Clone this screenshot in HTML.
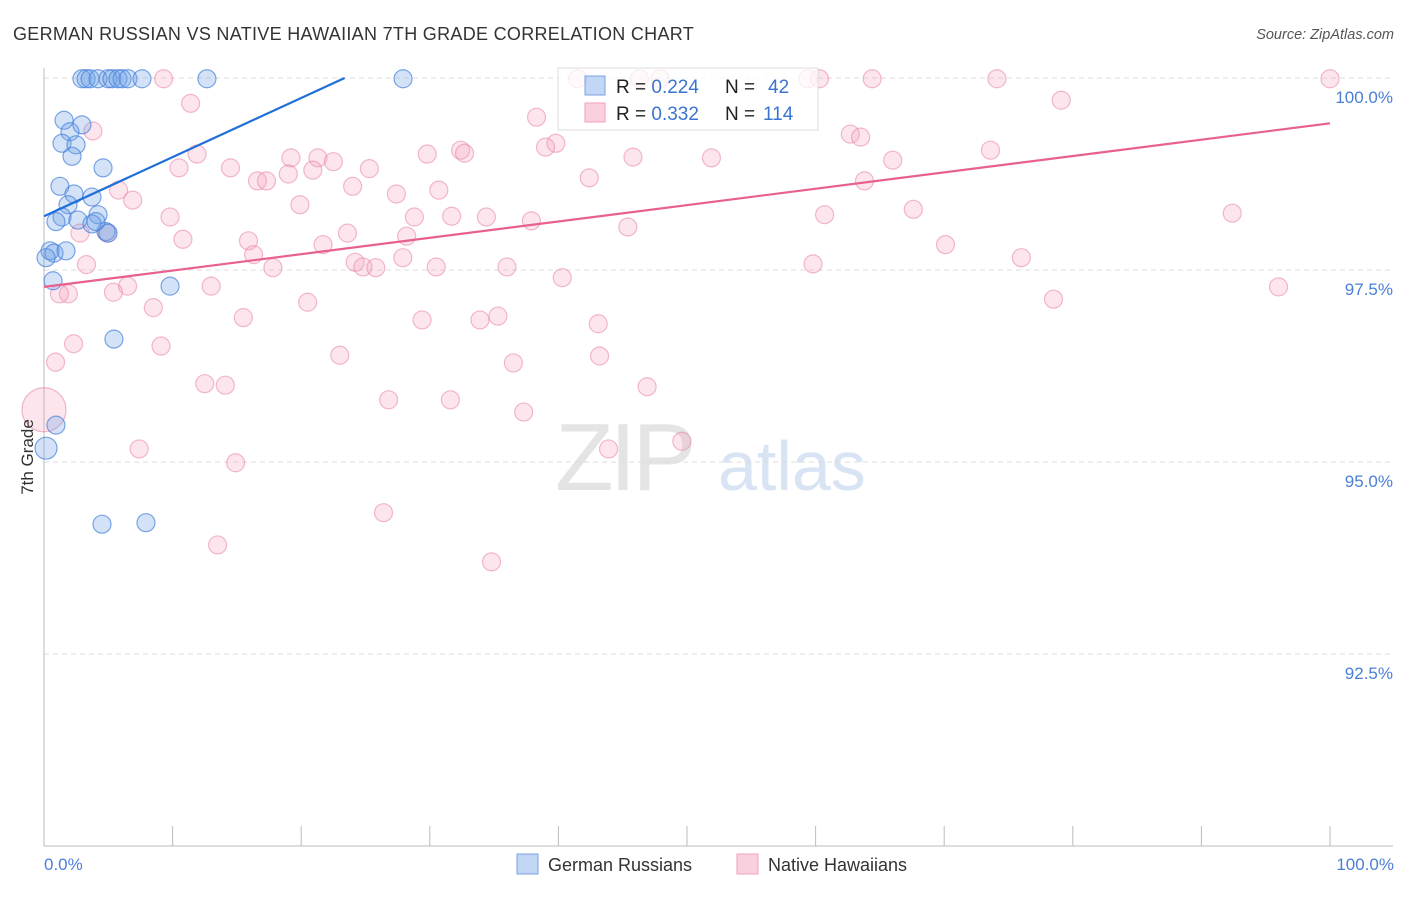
<!DOCTYPE html>
<html><head><meta charset="utf-8"><style>
body{margin:0;background:#fff;font-family:"Liberation Sans",sans-serif;}
svg text{font-family:"Liberation Sans",sans-serif;}
</style></head><body>
<svg id="chart" width="1406" height="892" viewBox="0 0 1406 892" xmlns="http://www.w3.org/2000/svg">
<text x="13" y="40" font-size="18" fill="#333" letter-spacing="0.3">GERMAN RUSSIAN VS NATIVE HAWAIIAN 7TH GRADE CORRELATION CHART</text>
<text x="1394" y="39" font-size="14.5" fill="#555" font-style="italic" text-anchor="end">Source: ZipAtlas.com</text>
<g>
<text x="555" y="490" font-size="96" fill="#e4e4e4" font-family="Liberation Serif" letter-spacing="-4">ZIP</text>
<text x="718" y="490" font-size="70" fill="#d8e4f4">atlas</text>
</g>
<g id="grid"></g><g id="axes"></g><g id="pts"></g><g id="trend"></g>
<text transform="translate(33,457) rotate(-90)" font-size="17" fill="#333" text-anchor="middle">7th Grade</text>
<text x="44" y="870" font-size="17" fill="#4a7fd6">0.0%</text>
<text x="1394" y="870" font-size="17" fill="#4a7fd6" text-anchor="end">100.0%</text>
<g>
<rect x="558" y="68" width="260" height="62" fill="rgba(255,255,255,0.75)" stroke="#ddd"/>
<rect x="585" y="76" width="20" height="19" fill="rgba(120,165,235,0.45)" stroke="#7aa3e5"/>
<rect x="585" y="103" width="20" height="19" fill="rgba(245,160,190,0.5)" stroke="#f0a0bb"/>
<text x="616" y="93" font-size="19" fill="#222">R = <tspan fill="#3b74d0">0.224</tspan><tspan x="725">N =</tspan><tspan x="768" fill="#3b74d0">42</tspan></text>
<text x="616" y="120" font-size="19" fill="#222">R = <tspan fill="#3b74d0">0.332</tspan><tspan x="725">N =</tspan><tspan x="763" fill="#3b74d0">114</tspan></text>
</g>
<g>
<rect x="517" y="854" width="21" height="20" fill="rgba(120,165,235,0.45)" stroke="#7aa3e5"/>
<text x="548" y="871" font-size="18" fill="#333">German Russians</text>
<rect x="737" y="854" width="21" height="20" fill="rgba(245,160,190,0.5)" stroke="#f0a0bb"/>
<text x="768" y="871" font-size="18" fill="#333">Native Hawaiians</text>
</g>
</svg>
<script>
const yTicks=[100,97.5,95,92.5];
const yTickLabels=["100.0%","97.5%","95.0%","92.5%"];
const xTicks=[0,10,20,30,40,50,60,70,80,90,100];
const blueX=[2.95,3.27,3.58,4.2,4.98,5.29,5.75,6.07,6.53,7.62,12.67,27.92,1.56,2.02,2.95,1.40,2.49,2.18,4.59,1.24,2.33,3.73,1.87,4.2,1.4,0.93,2.64,3.73,4.82,0.47,0.78,1.71,0.16,0.7,9.8,5.44,0.93,0.16,4.51,7.93,4.98,4.04];
const blueY=[99.99,99.99,99.99,99.99,99.99,99.99,99.99,99.99,99.99,99.99,99.99,99.99,99.45,99.30,99.39,99.15,99.13,98.98,98.83,98.59,98.49,98.45,98.35,98.22,98.19,98.13,98.15,98.10,98.0,97.75,97.72,97.75,97.66,97.36,97.29,96.6,95.48,95.18,94.19,94.21,97.98,98.13];
const pinkX=[9.3,41.5,46.3,47.9,59.4,60.3,64.4,74.1,100,11.4,79.1,38.3,3.8,62.7,63.5,39.8,39.0,32.4,32.7,11.9,45.8,51.9,73.6,29.8,19.2,21.3,22.5,66.0,10.5,14.5,25.3,20.9,19.0,16.6,17.3,42.4,24.0,63.8,5.8,30.7,27.4,6.9,19.9,67.6,92.4,9.8,28.8,31.7,34.4,37.9,60.7,45.4,2.8,23.6,4.9,28.2,10.8,15.9,21.7,70.1,16.3,27.9,76.0,3.3,17.8,24.2,24.8,25.8,30.5,36.0,59.8,40.3,6.5,13.0,96.0,5.4,1.9,1.2,20.5,78.5,8.5,15.5,29.4,33.9,35.3,43.1,0.9,2.3,9.1,23.0,43.2,36.5,12.5,14.1,26.8,31.6,46.9,37.3,0.0,7.4,43.9,49.6,14.9,26.4,13.5,34.8];
const pinkY=[99.99,99.99,99.99,99.99,99.99,99.99,99.99,99.99,99.99,99.67,99.71,99.49,99.31,99.27,99.23,99.15,99.10,99.06,99.02,99.01,98.97,98.96,99.06,99.01,98.96,98.96,98.91,98.93,98.83,98.83,98.82,98.80,98.75,98.66,98.66,98.70,98.59,98.66,98.54,98.54,98.49,98.41,98.35,98.29,98.24,98.19,98.19,98.20,98.19,98.14,98.22,98.06,97.98,97.98,97.98,97.94,97.90,97.88,97.83,97.83,97.70,97.66,97.66,97.57,97.53,97.60,97.54,97.53,97.54,97.54,97.58,97.40,97.29,97.29,97.28,97.21,97.19,97.19,97.08,97.12,97.01,96.88,96.85,96.85,96.90,96.80,96.30,96.54,96.51,96.39,96.38,96.29,96.02,96.0,95.81,95.81,95.98,95.65,95.68,95.17,95.17,95.27,94.99,94.34,93.92,93.70];
const blueTrend=[98.2,105.9];
const pinkTrend=[97.28,99.41];
const X0=44,X1=1330,Y0=846,Ytop=78;
const sx=v=>X0+(X1-X0)*v/100;
const sy=v=>Y0-(Y0-Ytop)*(v-90)/10;
const NS="http://www.w3.org/2000/svg";
function mk(tag,attrs,parent){const e=document.createElementNS(NS,tag);for(const k in attrs)e.setAttribute(k,attrs[k]);document.getElementById(parent).appendChild(e);return e;}
yTicks.forEach((t,i)=>{
 const g=mk('line',{x1:X0,x2:1393,y1:sy(t),y2:sy(t),stroke:'#ddd','stroke-dasharray':'5,4'},'grid');
 
 
 const l=mk('text',{x:1393,y:sy(t)+25,'font-size':17,fill:'#4a7fd6','text-anchor':'end'},'grid');
 l.textContent=yTickLabels[i];
 
 
});
const ax=mk('line',{x1:X0,x2:X0,y1:68,y2:Y0,stroke:'#bbb'},'axes');


const bx=mk('line',{x1:X0,x2:1393,y1:Y0,y2:Y0,stroke:'#bbb'},'axes');


xTicks.forEach(t=>{
 const tk=mk('line',{x1:sx(t),x2:sx(t),y1:826,y2:Y0,stroke:'#bbb'},'axes');
 
 
});
pinkX.forEach((x,i)=>{
 const big=(x===0&&pinkY[i]<96);
 const c=mk('circle',{cx:sx(x),cy:sy(pinkY[i]),r:big?22:9,fill:'rgba(245,160,190,0.28)',stroke:'rgba(232,130,165,0.55)','stroke-width':1.2},'pts');
 
 
});
blueX.forEach((x,i)=>{
 const c=mk('circle',{cx:sx(x),cy:sy(blueY[i]),r:(i===37)?11:9,fill:'rgba(110,160,230,0.3)',stroke:'rgba(70,130,220,0.7)','stroke-width':1.2},'pts');
 
 
});
const bxEnd=100*(100-blueTrend[0])/(blueTrend[1]-blueTrend[0]);
const bl=mk('line',{x1:sx(0),y1:sy(blueTrend[0]),x2:sx(bxEnd),y2:sy(100),stroke:'#1f6fd8','stroke-width':2.2},'trend');


const pl=mk('line',{x1:sx(0),y1:sy(pinkTrend[0]),x2:sx(100),y2:sy(pinkTrend[1]),stroke:'#e8608f','stroke-width':2.2},'trend');


</script>
</body></html>
